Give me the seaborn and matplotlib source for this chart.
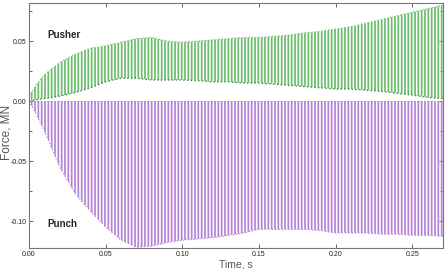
import numpy as np
import matplotlib
matplotlib.use("Agg")
import matplotlib.pyplot as plt
import seaborn as sns

# envelope of the oscillating force traces (time in s, force in MN)
time_s = [0.000, 0.005, 0.010, 0.020, 0.030, 0.040, 0.050, 0.060, 0.070, 0.080,
          0.090, 0.100, 0.110, 0.120, 0.130, 0.140, 0.150, 0.160, 0.170, 0.180,
          0.190, 0.200, 0.210, 0.220, 0.230, 0.240, 0.250, 0.260, 0.270]

pusher_max = [0.004, 0.014, 0.022, 0.032, 0.039, 0.044, 0.046, 0.049, 0.052, 0.053,
              0.050, 0.049, 0.050, 0.051, 0.052, 0.053, 0.053, 0.054, 0.055, 0.057,
              0.058, 0.060, 0.062, 0.065, 0.068, 0.071, 0.074, 0.077, 0.080]
pusher_min = [0.000, 0.001, 0.002, 0.004, 0.007, 0.011, 0.016, 0.019, 0.019, 0.0175,
              0.0175, 0.0175, 0.017, 0.016, 0.016, 0.015, 0.015, 0.014, 0.013, 0.012,
              0.011, 0.010, 0.010, 0.009, 0.008, 0.0065, 0.005, 0.003, 0.002]

punch_max = [0.0] * 29
punch_min = [0.000, -0.012, -0.025, -0.055, -0.077, -0.092, -0.105, -0.116, -0.122, -0.121,
             -0.118, -0.116, -0.115, -0.114, -0.112, -0.110, -0.107, -0.107, -0.107, -0.107,
             -0.108, -0.110, -0.110, -0.110, -0.111, -0.111, -0.112, -0.112, -0.113]

x_ticks = [0.00, 0.05, 0.10, 0.15, 0.20, 0.25]
y_ticks = [-0.10, -0.05, 0.00, 0.05]

sns.set_style("ticks")
plt.rcParams["font.family"] = ["Liberation Sans", "DejaVu Sans"]
plt.rcParams["hatch.linewidth"] = 1.25

green = "#6cbd6c"
dark_green = "#2a7a2a"
purple = "#b483d6"

fig = plt.figure(figsize=(4.48, 2.69), dpi=100)
ax = fig.add_axes([29 / 448, 21 / 269, 414 / 448, 245 / 269])

# vertical strokes of the traces, drawn as a hatch inside each envelope
ax.fill_between(time_s, pusher_min, pusher_max, facecolor="none",
                edgecolor=green, linewidth=0, hatch="|||||")
ax.fill_between(time_s, punch_min, punch_max, facecolor="none",
                edgecolor=purple, linewidth=0, hatch="|||||")

sns.lineplot(x=time_s, y=pusher_min, ax=ax, color=dark_green, lw=0.9, ls=(0, (1, 2)))
sns.lineplot(x=time_s, y=pusher_max, ax=ax, color=green, lw=0.8, ls=(0, (1, 2)))
sns.lineplot(x=time_s, y=punch_min, ax=ax, color=purple, lw=0.8, ls=(0, (1, 2)))
ax.axhline(0, color=purple, lw=0.6, ls=(0, (1, 2)))

ax.text(0.012, 0.055, "Pusher", fontsize=7, fontweight="bold", va="center")
ax.text(0.012, -0.1025, "Punch", fontsize=7, fontweight="bold", va="center")

ax.set_xlim(0, 0.27)
ax.set_ylim(-0.1225, 0.0817)
ax.set_xticks(x_ticks)
ax.set_xticklabels([f"{v:.2f}" for v in x_ticks])
ax.set_yticks(y_ticks)
ax.set_yticklabels([f"{v:.2f}" for v in y_ticks])
ax.set_yticks(np.array(y_ticks) + 0.025, minor=True)

ax.tick_params(axis="both", which="both", direction="in", labelsize=5,
               colors="#666666", labelcolor="#222222", length=3, width=0.7,
               top=True, right=True, pad=2)
ax.tick_params(axis="y", which="minor", length=2)
for sp in ax.spines.values():
    sp.set_color("#777777")
    sp.set_linewidth(0.8)

ax.set_xlabel("Time, s", fontsize=7.5, color="#555555", labelpad=1)
ax.set_ylabel("Force, MN", fontsize=8.5, color="#555555", labelpad=0)
ax.yaxis.set_label_coords(-0.040, 0.47)

fig.savefig("out.png", dpi=100)
